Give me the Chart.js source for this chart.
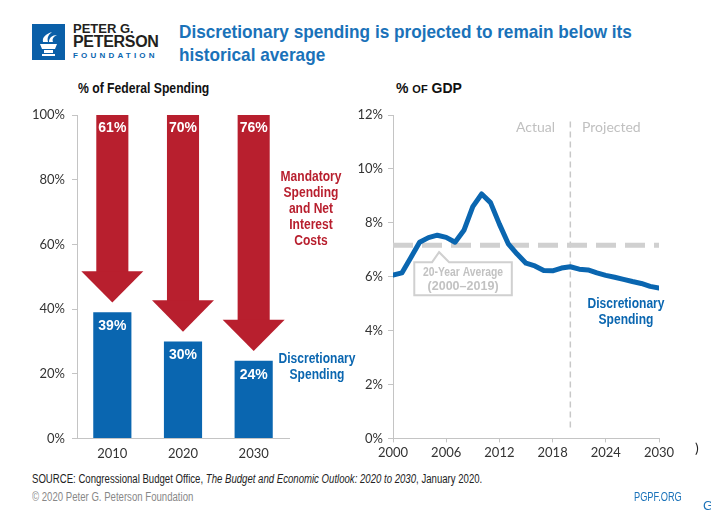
<!DOCTYPE html>
<html>
<head>
<meta charset="utf-8">
<script src="https://cdn.jsdelivr.net/npm/chart.js@4"></script>
<style>
  html, body { margin: 0; padding: 0; background: #fff; }
  body { width: 711px; height: 513px; position: relative; overflow: hidden; font-family: Lato, sans-serif; }
  .abs { position: absolute; white-space: nowrap; }
  #title { left: 179px; top: 20px; font: bold 19px "Liberation Sans", sans-serif; color: #1a72b9; line-height: 23px; transform: scaleX(0.905); transform-origin: left top; }
  .logo-t { left: 73px; font-family: "Liberation Sans", sans-serif; font-weight: bold; color: #231f20; }
  .sub { font: bold 14px "Liberation Sans", sans-serif; color: #111; }
  .note { font: bold 14px "Liberation Sans", sans-serif; text-align: center; line-height: 16px; transform: scaleX(0.86); transform-origin: center top; }
  .red { color: #b81f2e; }
  .blue { color: #0a66b0; }
  .foot { font: 12px "Liberation Sans", sans-serif; transform: scaleX(0.8); transform-origin: left top; }
  #left-wrap { position: absolute; left: 0; top: 100px; width: 300px; height: 362px; }
  #right-wrap { position: absolute; left: 340px; top: 100px; width: 360px; height: 364px; }
</style>
</head>
<body>

<!-- header / logo -->
<svg class="abs" style="left:32px;top:24px" width="33" height="36" viewBox="0 0 33 36">
  <rect width="33" height="36" fill="#0a5fa8"/>
  <path d="M8 20 h17 l-2 5 h-13 z" fill="#fff"/>
  <rect x="12" y="26" width="9" height="3" fill="#fff"/>
  <rect x="10" y="30" width="13" height="2" fill="#fff"/>
  <path d="M11 18 C10 13 14 10 20 8 C16 11 15 14 16 18 z" fill="#fff"/>
  <path d="M17 18 C17 14 20 11 25 11 C21 13 20 15 21 18 z" fill="#fff"/>
</svg>
<div class="abs logo-t" style="top:21px;font-size:13px;">PETER G.</div>
<div class="abs logo-t" style="top:33px;font-size:16px;letter-spacing:-0.3px;">PETERSON</div>
<div class="abs" style="left:73px;top:51px;font:bold 8px 'Liberation Sans',sans-serif;color:#0a66b0;letter-spacing:3.2px;">FOUNDATION</div>
<div id="title" class="abs">Discretionary spending is projected to remain below its<br>historical average</div>

<div class="abs sub" style="left:78px;top:80px;transform:scaleX(0.87);transform-origin:left top;">% of Federal Spending</div>
<div class="abs sub" style="left:396px;top:80px;">% <span style="font-size:11px">OF</span> GDP</div>

<div id="left-wrap"><canvas id="left-chart"></canvas></div>
<div id="right-wrap"><canvas id="right-chart"></canvas></div>

<!-- annotations -->
<div class="abs note red" style="left:265px;width:92px;top:168px;">Mandatory<br>Spending<br>and Net<br>Interest<br>Costs</div>
<div class="abs note blue" style="left:267px;width:100px;top:350px;">Discretionary<br>Spending</div>
<div class="abs" style="left:480px;width:75px;top:118px;text-align:right;font:14px Lato,sans-serif;color:#c0c0c0;">Actual</div>
<div class="abs" style="left:582px;top:118px;font:14px Lato,sans-serif;color:#c0c0c0;">Projected</div>
<div class="abs note blue" style="left:576px;width:100px;top:295px;">Discretionary<br>Spending</div>
<div class="abs" style="left:695px;top:439px;font:14px Lato,sans-serif;color:#222;">)</div>

<!-- footer -->
<div class="abs foot" style="left:32px;top:472px;color:#222;">SOURCE: Congressional Budget Office, <i>The Budget and Economic Outlook: 2020 to 2030</i>, January 2020.</div>
<div class="abs foot" style="left:32px;top:490px;color:#888;">© 2020 Peter G. Peterson Foundation</div>
<div class="abs foot" style="left:634px;top:490px;color:#1a72b9;transform:scaleX(0.77);">PGPF.ORG</div>
<div class="abs" style="left:703px;top:498px;font:13px 'Liberation Sans',sans-serif;color:#1a72b9;">G</div>

<script>
/* ── DATA ── */
const barYears      = ['2010', '2020', '2030'];
const discShare     = [39, 30, 24];     // % of federal spending
const mandShare     = [61, 70, 76];     // mandatory + net interest

const gdpYears = [2000, 2001, 2002, 2003, 2004, 2005, 2006, 2007, 2008, 2009, 2010,
                  2011, 2012, 2013, 2014, 2015, 2016, 2017, 2018, 2019, 2020,
                  2021, 2022, 2023, 2024, 2025, 2026, 2027, 2028, 2029, 2030];
const discGdp  = [6.06, 6.14, 6.70, 7.28, 7.45, 7.54, 7.46, 7.28, 7.72, 8.60, 9.07,
                  8.75, 7.95, 7.22, 6.84, 6.50, 6.40, 6.23, 6.22, 6.32, 6.37,
                  6.28, 6.25, 6.14, 6.05, 5.98, 5.90, 5.82, 5.75, 5.64, 5.58];
const avgYears = [2000, 2030];
const avgValue = 7.17;                  // 20-year average 2000–2019
const splitYear = 2020;                 // actual | projected divider
const gdpTicks = { min: 0, max: 12, step: 2 };
const yearTicks = { min: 2000, max: 2030, step: 6 };

/* ── SHARED STYLE ── */
const BLUE = '#0a66b0', RED = '#b81f2e', AXIS = '#c4c4c4', GRAY_AVG = '#d0d0d0';
const tickFont = { family: 'Lato', size: 13 };
const arrowGap = 3, arrowHead = 9.7;    // in % units of the left axis

/* ── LEFT: % of federal spending ── */
const arrowPlugin = {
  id: 'arrows',
  afterDatasetsDraw(chart) {
    const { ctx, scales: { x, y } } = chart;
    ctx.save();
    ctx.fillStyle = RED;
    discShare.forEach((d, i) => {
      const cx = x.getPixelForValue(i);
      const top = y.getPixelForValue(d + arrowGap + arrowHead);
      const tip = y.getPixelForValue(d + arrowGap);
      ctx.beginPath();
      ctx.moveTo(cx - 31, top);
      ctx.lineTo(cx + 31, top);
      ctx.lineTo(cx, tip);
      ctx.closePath();
      ctx.fill();
    });
    // value labels
    ctx.fillStyle = '#fff';
    ctx.font = 'bold 14px "Liberation Sans", sans-serif';
    ctx.textAlign = 'center';
    ctx.textBaseline = 'middle';
    discShare.forEach((d, i) => {
      const cx = x.getPixelForValue(i);
      ctx.fillText(mandShare[i] + '%', cx, y.getPixelForValue(100) + 13, 28);
      ctx.fillText(d + '%', cx, y.getPixelForValue(d) + 14, 28);
    });
    ctx.restore();
  }
};

new Chart(document.getElementById('left-chart'), {
  type: 'bar',
  data: {
    labels: barYears,
    datasets: [
      {
        data: discShare,
        backgroundColor: BLUE,
        grouped: false,
        barPercentage: 0.54, categoryPercentage: 1,
      },
      {
        data: discShare.map(d => [d + arrowGap + arrowHead - 0.3, 100]),
        backgroundColor: RED,
        grouped: false,
        barPercentage: 0.454, categoryPercentage: 1,
      }
    ]
  },
  options: {
    responsive: true, maintainAspectRatio: false, animation: false,
    layout: { padding: { top: 15, right: 11, bottom: 0, left: 0 } },
    plugins: { legend: { display: false }, tooltip: { enabled: false } },
    scales: {
      x: {
        grid: { display: false },
        border: { color: AXIS, width: 1 },
        ticks: { color: '#333', font: tickFont, padding: 0 },
      },
      y: {
        min: 0, max: 100,
        afterFit: s => { s.width = 77; },
        grid: { drawOnChartArea: false, color: AXIS, tickLength: 5 },
        border: { color: AXIS, width: 1 },
        ticks: { stepSize: 20, color: '#333', font: tickFont, padding: 7, callback: v => v + '%' },
      }
    }
  },
  plugins: [arrowPlugin]
});

/* ── RIGHT: % of GDP ── */
const boxPlugin = {
  id: 'avgBox',
  afterDatasetsDraw(chart) {
    const { ctx, scales: { x, y } } = chart;
    const pt = { x: x.getPixelForValue(2005.2), y: y.getPixelForValue(avgValue) };
    const l = x.getPixelForValue(2002.4), r = x.getPixelForValue(2013.4);
    const t = pt.y + 17, b = t + 33;
    ctx.save();
    ctx.strokeStyle = GRAY_AVG;
    ctx.lineWidth = 2;
    ctx.beginPath();
    ctx.moveTo(l, t);
    ctx.lineTo(pt.x - 7, t);
    ctx.lineTo(pt.x, pt.y + 7);
    ctx.lineTo(pt.x + 10, t);
    ctx.lineTo(r, t);
    ctx.lineTo(r, b);
    ctx.lineTo(l, b);
    ctx.closePath();
    ctx.stroke();
    ctx.fillStyle = '#c2c2c2';
    ctx.font = 'bold 13px "Liberation Sans", sans-serif';
    ctx.textAlign = 'center';
    ctx.textBaseline = 'middle';
    const cx = (l + r) / 2;
    ctx.fillText('20-Year Average', cx, t + 10, 80);
    ctx.fillText('(2000–2019)', cx, t + 24, 71);
    ctx.restore();
  }
};

new Chart(document.getElementById('right-chart'), {
  type: 'line',
  data: {
    datasets: [
      {
        data: gdpYears.map((yr, i) => ({ x: yr, y: discGdp[i] })),
        borderColor: BLUE, borderWidth: 5,
        pointRadius: 0, tension: 0,
        borderJoinStyle: 'round', borderCapStyle: 'round',
      },
      {
        data: avgYears.map(yr => ({ x: yr, y: avgValue })),
        borderColor: GRAY_AVG, borderWidth: 5,
        borderDash: [20, 9], pointRadius: 0,
      },
      {
        data: [{ x: splitYear, y: 0.4 }, { x: splitYear, y: 11.8 }],
        borderColor: '#c8c8c8', borderWidth: 1.5,
        borderDash: [6, 4], pointRadius: 0,
      }
    ]
  },
  options: {
    responsive: true, maintainAspectRatio: false, animation: false,
    layout: { padding: { top: 15, right: 41, bottom: 0, left: 0 } },
    plugins: { legend: { display: false }, tooltip: { enabled: false } },
    scales: {
      x: {
        type: 'linear', min: yearTicks.min, max: yearTicks.max,
        grid: { drawOnChartArea: false, color: AXIS, tickLength: 4 },
        border: { color: AXIS, width: 1 },
        ticks: { stepSize: yearTicks.step, color: '#333', font: tickFont, padding: 3, callback: v => String(v) },
      },
      y: {
        min: gdpTicks.min, max: gdpTicks.max,
        afterFit: s => { s.width = 53; },
        grid: { drawOnChartArea: false, color: AXIS, tickLength: 5 },
        border: { color: AXIS, width: 1 },
        ticks: { stepSize: gdpTicks.step, color: '#333', font: tickFont, padding: 5, callback: v => v + '%' },
      }
    }
  },
  plugins: [boxPlugin]
});
</script>
</body>
</html>
